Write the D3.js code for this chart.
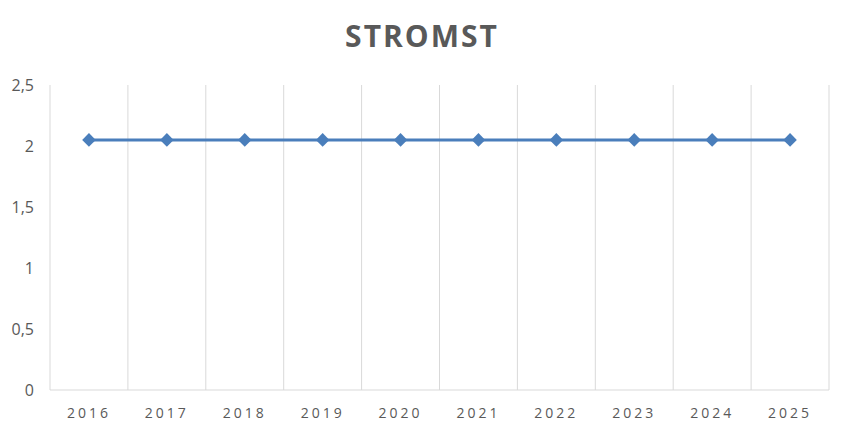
<!DOCTYPE html>
<html><head><meta charset="utf-8">
<script src="https://cdn.jsdelivr.net/npm/d3@7"></script>
<style>body{margin:0;background:#fff}</style>
</head><body>
<svg id="c" width="862" height="430"></svg>
<script>
const categories = ["2016","2017","2018","2019","2020","2021","2022","2023","2024","2025"];
const values = [2.05,2.05,2.05,2.05,2.05,2.05,2.05,2.05,2.05,2.05];
const yTicks = [0,0.5,1,1.5,2,2.5];
const title = "STROMST";

const svg = d3.select("#c");
const m = {l:50, r:829, t:85, b:390};
const x = d3.scaleBand().domain(categories).range([m.l, m.r]);
const y = d3.scaleLinear().domain([0,2.5]).range([m.b, m.t]);
const fmt = d => String(d).replace(".", ",");

svg.append("text").attr("x",422).attr("y",47).attr("text-anchor","middle")
  .attr("font-family","Open Sans, sans-serif").attr("font-weight","bold")
  .attr("font-size",30).attr("fill","#595959").attr("letter-spacing",2).text(title);

const bounds = categories.map(c => x(c)).concat([x(categories[categories.length-1]) + x.bandwidth()]);
svg.append("g").selectAll("line").data(bounds).join("line")
  .attr("x1",d=>d).attr("x2",d=>d).attr("y1",m.t).attr("y2",m.b)
  .attr("stroke","#d9d9d9").attr("stroke-width",1);
svg.append("line").attr("x1",m.l).attr("x2",m.r).attr("y1",m.b).attr("y2",m.b)
  .attr("stroke","#d9d9d9").attr("stroke-width",1);

const yAxis = svg.append("g").attr("transform",`translate(${m.l},0)`)
  .call(d3.axisLeft(y).tickValues(yTicks).tickFormat(fmt).tickSize(0).tickPadding(16));
yAxis.select(".domain").remove();
yAxis.selectAll("text").attr("font-family","Open Sans, sans-serif").attr("font-size",16).attr("fill","#595959");

const xAxis = svg.append("g").attr("transform",`translate(0,${m.b})`)
  .call(d3.axisBottom(x).tickSize(0).tickPadding(18));
xAxis.select(".domain").remove();
xAxis.selectAll("text").attr("font-family","Open Sans, sans-serif").attr("font-size",14)
  .attr("fill","#595959").attr("letter-spacing",3);

const pts = categories.map((c,i)=>[x(c)+x.bandwidth()/2, y(values[i])]);
svg.append("path").attr("d", d3.line()(pts)).attr("fill","none")
  .attr("stroke","#4a7ebb").attr("stroke-width",3);
svg.append("g").selectAll("path").data(pts).join("path")
  .attr("d", d3.symbol(d3.symbolSquare, 92)())
  .attr("transform", d=>`translate(${d[0]},${d[1]}) rotate(45)`)
  .attr("fill","#4a7ebb");
</script>
</body></html>
